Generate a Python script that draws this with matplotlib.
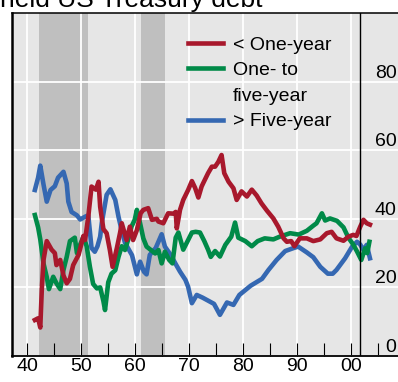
import matplotlib
matplotlib.use("Agg")
import matplotlib.pyplot as plt
from matplotlib.lines import Line2D

plt.rcParams['font.family'] = ['Liberation Sans', 'DejaVu Sans']

# share of privately held debt by maturity, per cent
years_short = [1941.4, 1942.0, 1942.4, 1942.7, 1943.0, 1943.6, 1944.5, 1945.1, 1945.4, 1946.1,
               1946.7, 1947.3, 1947.9, 1948.5, 1949.5, 1950.4, 1950.7, 1951.3, 1951.9, 1952.7,
               1953.2, 1953.5, 1954.1, 1954.7, 1955.3, 1955.8, 1956.6, 1957.2, 1957.5, 1958.4,
               1959.0, 1959.6, 1960.3, 1961.0, 1961.5, 1962.4, 1963.1, 1964.0, 1964.3, 1965.2,
               1966.1, 1967.1, 1967.5, 1967.7, 1968.3, 1968.9, 1969.8, 1970.5, 1971.1, 1971.7,
               1972.3, 1972.6, 1973.5, 1974.2, 1974.8, 1975.4, 1976.0, 1976.5, 1977.3, 1978.2,
               1978.8, 1979.7, 1980.7, 1981.6, 1982.5, 1983.4, 1984.4, 1985.6, 1986.5, 1987.5,
               1988.1, 1988.9, 1989.5, 1990.5, 1991.8, 1993.0, 1994.3, 1995.5, 1996.4, 1997.3,
               1998.6, 1999.5, 2000.4, 2001.0, 2001.7, 2002.3, 2002.9, 2003.5]
share_short = [10.5, 11.0, 8.3, 20.0, 28.0, 33.5, 31.0, 30.0, 26.5, 28.0,
               23.5, 21.2, 22.5, 26.5, 29.5, 35.0, 33.8, 40.6, 49.4, 48.5,
               50.8, 43.5, 37.0, 35.8, 30.9, 26.0, 31.5, 36.0, 38.7, 33.8,
               37.7, 33.8, 36.7, 41.6, 42.6, 43.1, 39.7, 40.0, 39.2, 38.7,
               41.6, 41.5, 42.0, 37.2, 42.6, 45.5, 48.4, 51.0, 49.0, 46.2,
               49.4, 50.4, 53.3, 55.2, 55.2, 56.6, 58.6, 53.3, 50.8, 48.9,
               45.5, 48.0, 46.5, 48.5, 46.8, 44.5, 42.4, 40.1, 37.7, 34.3,
               33.3, 33.5, 32.0, 34.3, 34.3, 33.5, 34.0, 35.8, 36.2, 34.3,
               33.6, 34.8, 35.3, 35.0, 37.7, 39.7, 38.7, 38.3]

years_mid = [1941.4, 1942.0, 1942.4, 1943.0, 1943.6, 1944.0, 1944.8, 1945.4, 1946.1, 1946.7,
             1947.3, 1947.9, 1948.8, 1949.2, 1949.8, 1950.4, 1951.0, 1951.6, 1952.2, 1952.9,
             1953.5, 1954.1, 1954.4, 1955.0, 1955.6, 1956.3, 1956.9, 1957.5, 1958.1, 1958.7,
             1959.3, 1959.9, 1960.3, 1960.9, 1961.5, 1962.1, 1962.9, 1963.7, 1964.3, 1964.9,
             1965.5, 1966.3, 1966.9, 1967.5, 1968.0, 1968.9, 1969.8, 1970.5, 1971.2, 1972.0,
             1972.8, 1973.5, 1974.0, 1974.8, 1975.7, 1976.7, 1977.8, 1978.5, 1979.1, 1980.4,
             1981.6, 1982.7, 1984.0, 1985.6, 1986.8, 1988.7, 1990.3, 1991.8, 1993.0, 1993.6,
             1994.6, 1995.2, 1996.1, 1997.4, 1998.6, 1999.5, 2000.4, 2001.1, 2001.9, 2002.6,
             2003.0, 2003.4]
share_mid = [41.1, 37.5, 34.0, 27.0, 23.0, 19.5, 23.1, 21.2, 19.5, 25.1,
             28.9, 33.5, 34.5, 30.0, 32.5, 34.8, 32.0, 26.0, 21.0, 19.7,
             20.0, 16.0, 13.4, 21.5, 24.0, 25.0, 28.9, 32.0, 30.9, 34.0,
             37.7, 39.7, 42.6, 38.7, 34.3, 31.9, 30.9, 29.9, 30.9, 27.0,
             30.4, 28.0, 27.0, 34.5, 36.0, 31.0, 33.8, 36.0, 36.2, 36.0,
             33.5, 31.0, 28.9, 30.6, 29.0, 32.4, 34.8, 38.9, 34.5, 33.5,
             32.0, 33.5, 34.3, 34.0, 34.8, 35.8, 35.4, 36.5, 38.0, 38.7,
             41.6, 39.5, 40.1, 39.4, 37.5, 34.5, 32.5, 30.5, 28.0, 31.4,
             30.0, 33.3]

years_long = [1941.4, 1942.0, 1942.4, 1943.0, 1943.6, 1944.3, 1945.1, 1945.7, 1946.7, 1947.3,
              1947.6, 1948.2, 1949.2, 1949.8, 1950.7, 1951.3, 1951.9, 1952.5, 1953.0, 1953.5,
              1953.8, 1954.7, 1955.4, 1956.3, 1956.9, 1957.5, 1958.1, 1959.4, 1960.3, 1960.9,
              1961.6, 1962.1, 1962.7, 1963.8, 1964.9, 1965.5, 1966.6, 1967.5, 1968.3, 1969.3,
              1969.8, 1970.5, 1971.4, 1972.5, 1973.9, 1974.6, 1975.7, 1977.0, 1978.2, 1979.3,
              1981.4, 1983.5, 1984.7, 1986.2, 1987.8, 1989.4, 1990.2, 1991.8, 1993.0, 1994.3,
              1995.7, 1996.6, 1997.3, 1998.9, 2000.2, 2001.1, 2001.7, 2002.3, 2002.9, 2003.5]
share_long = [48.4, 52.0, 55.5, 50.0, 45.0, 48.4, 49.5, 52.0, 53.7, 50.3,
              45.0, 42.0, 41.0, 39.8, 40.6, 41.0, 31.5, 30.4, 32.0, 34.8,
              38.8, 47.0, 48.6, 45.5, 40.6, 36.5, 33.0, 29.4, 23.8, 27.5,
              24.6, 23.8, 29.5, 31.5, 35.5, 31.9, 29.4, 26.8, 24.6, 22.2,
              20.2, 15.4, 17.8, 17.0, 15.8, 15.2, 12.0, 15.6, 14.9, 17.8,
              20.5, 22.5, 25.1, 28.0, 30.6, 31.5, 31.9, 30.2, 28.8, 26.0,
              24.0, 24.0, 25.1, 28.5, 31.9, 33.3, 32.5, 30.9, 32.4, 28.5]

# pegged-rate period and Operation Twist
shaded_periods = [(1942.2, 1951.2), (1961.1, 1965.5)]
break_year = 2001.7

major_years = list(range(1940, 2001, 10))
major_labels = ['40', '50', '60', '70', '80', '90', '00']
minor_years = list(range(1945, 2006, 10))
y_ticks = [0, 20, 40, 60, 80]

red = '#a8182c'
green = '#008a48'
blue = '#3568b2'

W, H = 398, 382
fig = plt.figure(figsize=(W / 100, H / 100), dpi=100)
ax = fig.add_axes([12 / W, 26 / H, (W - 12) / W, 343 / H])
ax.set_facecolor('#e6e6e6')

for start, end in shaded_periods:
    ax.axvspan(start, end, color='#bfbfbf', lw=0, zorder=0.2)

ax.plot(years_long, share_long, color=blue, lw=3.3, zorder=3)
ax.plot(years_mid, share_mid, color=green, lw=3.3, zorder=3)
ax.plot(years_short, share_short, color=red, lw=3.3, zorder=3)
ax.axvline(break_year, color='black', lw=1.0, zorder=4)

ax.set_xlim(1937.16, 2008.7)
ax.set_ylim(0, 100)

ax.set_xticks(major_years)
ax.set_xticklabels(major_labels)
ax.set_xticks(minor_years, minor=True)
ax.tick_params(axis='x', which='both', direction='in', length=9.5, width=0.8,
               pad=1.5, labelsize=14, top=False)

ax.yaxis.tick_right()
ax.set_yticks(y_ticks)
ax.tick_params(axis='y', length=0, pad=-1, labelsize=14)
for lab in ax.get_yticklabels():
    lab.set_ha('right')
    lab.set_va('bottom')

ax.set_axisbelow(True)
ax.grid(True, which='major', color='white', lw=1.3)

for side in ['top', 'bottom', 'left']:
    ax.spines[side].set_color('black')
ax.spines['left'].set_linewidth(1.8)
ax.spines['top'].set_linewidth(1.1)
ax.spines['bottom'].set_linewidth(1.3)
ax.spines['right'].set_visible(False)

# legend: the middle entry wraps onto a second, keyless row
handles = [Line2D([], [], color=red, lw=3.3),
           Line2D([], [], color=green, lw=3.3),
           Line2D([], [], color='none'),
           Line2D([], [], color=blue, lw=3.3)]
labels = ['< One-year', 'One- to', 'five-year', '> Five-year']
ax.legend(handles, labels, loc='upper left', bbox_to_anchor=(0.456, 0.933),
          frameon=False, fontsize=14, handlelength=1.8, handletextpad=0.5,
          labelspacing=0.41, borderpad=0, borderaxespad=0)

fig.text(0.0, 1 - 7 / H, 'held US Treasury debt', fontsize=19, ha='left', va='baseline')

fig.savefig('out.png', dpi=100)
